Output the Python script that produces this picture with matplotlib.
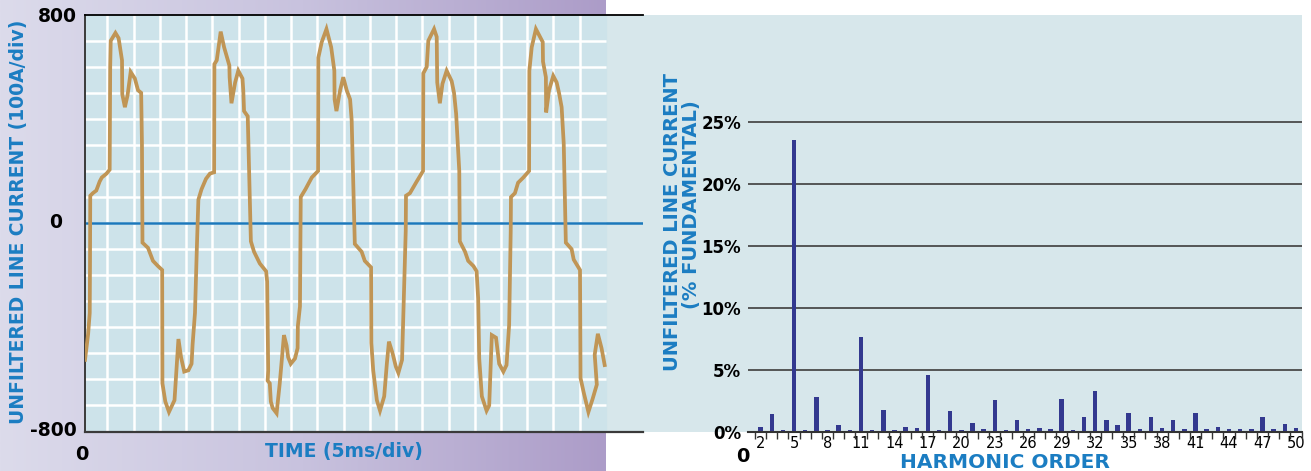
import numpy as np
import matplotlib.pyplot as plt
from matplotlib.colors import LinearSegmentedColormap

# line current trace: time in ms, current in A
t_ms = [0.0, 0.6, 0.9, 0.95, 1.0, 1.5, 2.15, 2.8, 3.2, 4.1, 4.7, 4.8, 4.9, 5.8, 6.4, 7.05, 7.1, 7.6, 8.1, 8.7, 9.5, 10.1, 10.7, 10.85,
        10.95, 12.0, 12.95, 13.9, 14.7, 14.75, 15.3, 16.0, 17.05, 17.8, 18.3, 18.9, 19.7, 20.3, 20.5, 20.95, 21.3,
        21.6, 22.2, 23.05, 23.8, 24.6, 24.65, 25.1, 25.85, 26.5, 27.5, 27.55, 27.9, 28.6, 29.2, 30.0, 30.15, 30.3, 31.0,
        31.6, 32.2, 33.3, 34.5, 34.7, 34.9, 34.8, 35.2, 35.4, 35.75, 36.5, 37.1, 37.9, 38.4, 38.7, 39.2, 40.0, 40.5, 40.55, 40.95,
        41.1, 42.0, 43.2, 44.4, 44.45, 45.1, 46.0, 46.9, 47.5, 47.55, 47.9, 48.6, 49.2, 49.85, 50.5, 50.8,
        51.4, 52.7, 53.3, 54.5, 54.55, 54.9, 55.6, 56.2, 57.0, 57.5, 57.9, 58.6, 59.2, 59.7, 60.4, 60.6, 61.1,
        61.15, 61.9, 63.2, 64.4, 64.45, 65.1, 65.4, 66.0, 66.5, 67.0, 67.1, 67.6, 68.1, 68.9, 69.85, 70.3, 70.7, 71.3,
        71.4, 72.4, 73.0, 74.0, 74.6, 74.9, 75.1, 75.6, 76.5, 77.0, 77.5, 78.3, 78.9, 79.7, 80.3, 80.8, 81.1,
        81.15, 81.9, 82.5, 83.5, 84.6, 84.65, 85.1, 85.9, 87.2, 87.25, 87.8, 87.85, 88.4, 89.2, 89.85, 90.3, 90.8, 91.2,
        91.6, 92.7, 93.1, 94.3, 94.4, 95.0, 95.9, 96.7, 97.5, 97.1, 97.7, 98.4, 99.0]
i_amp = [-525, -425, -345, -165, 105, 115, 125, 160, 175, 190, 205, 600, 700, 730, 710, 625, 495, 445, 490, 580, 555, 510, 500, 305,
         -75, -95, -145, -165, -180, -615, -685, -725, -680, -445, -515, -570, -565, -540, -465, -345, -100,
         90, 130, 170, 190, 195, 610, 625, 735, 675, 605, 560, 460, 540, 585, 555, 510, 430, 410,
         -70, -110, -155, -185, -225, -565, -605, -615, -685, -710, -730, -615, -430, -470, -515, -540, -520, -480, -395, -320,
         100, 130, 175, 200, 635, 695, 745, 675, 585, 475, 430, 510, 560, 510, 475, 395,
         -80, -110, -145, -170, -460, -565, -680, -720, -665, -540, -455, -500, -550, -575, -525, -380, -30,
         105, 115, 160, 200, 575, 600, 700, 725, 745, 715, 540, 460, 535, 585, 545, 500, 420, 200,
         -70, -110, -145, -165, -185, -290, -520, -665, -720, -700, -430, -440, -540, -570, -545, -390, -30,
         100, 115, 155, 175, 200, 585, 675, 745, 695, 620, 560, 425, 510, 565, 540, 500, 445, 305,
         -75, -100, -140, -180, -595, -650, -725, -675, -620, -505, -425, -480, -545]

# harmonic spectrum, % of fundamental
harmonic = list(range(2, 51))
pct_fund = [0.40, 1.43, 0.13, 23.6, 0.13, 2.83, 0.13, 0.54, 0.13, 7.67,
            0.13, 1.75, 0.13, 0.35, 0.27, 4.58, 0.13, 1.70, 0.13, 0.67,
            0.19, 2.56, 0.13, 0.94, 0.19, 0.30, 0.22, 2.61, 0.13, 1.21,
            3.26, 0.94, 0.54, 1.53, 0.22, 1.21, 0.27, 0.94, 0.19, 1.48,
            0.19, 0.35, 0.19, 0.24, 0.22, 1.21, 0.19, 0.62, 0.27]
harm_ticks = list(range(2, 51, 3))
pct_ticks = [0, 5, 10, 15, 20, 25]

BLUE = '#1b7dc2'
W, H = 1311, 471


def fx(px):
    return px / W


def fy(py):
    return 1 - py / H


fig = plt.figure(figsize=(W / 100, H / 100), dpi=100)

# panel backgrounds
bg_left = fig.add_axes([0, 0, fx(606), 1], zorder=0)
cmap = LinearSegmentedColormap.from_list('panel', ['#dcdbeb', '#c8c2de', '#ac9cc8'])
bg_left.imshow(np.linspace(0, 1, 256).reshape(1, -1), aspect='auto', cmap=cmap, extent=[0, 1, 0, 1])
bg_left.axis('off')

bg_right = fig.add_axes([fx(606), fy(432), fx(1302 - 606), (432 - 15) / H], zorder=0)
bg_right.set_facecolor('#d7e7eb')
bg_right.set_xticks([])
bg_right.set_yticks([])
for s in bg_right.spines.values():
    s.set_visible(False)

# --- time waveform ---
t_end = 99.2
ax1 = fig.add_axes([fx(85), fy(431.5), fx(643 - 85), (431.5 - 14.7) / H], zorder=2)
ax1.set_facecolor('none')
ax1.set_xlim(0, 106.3)
ax1.set_ylim(-800, 800)
ax1.axvspan(0, t_end, color='#cde3ea', zorder=0)
ax1.vlines(np.arange(4.25, t_end, 5), -800, 800, color='white', lw=1.8, zorder=1)
ax1.hlines(np.arange(-700, 800, 100), 0, t_end, color='white', lw=1.8, zorder=1)
ax1.axhline(0, color='#1a78bb', lw=1.8, zorder=2)
ax1.plot(t_ms, i_amp, color='#c09555', lw=2.7, solid_joinstyle='miter', zorder=3)
ax1.set_xticks([])
ax1.set_yticks([])
ax1.spines['right'].set_visible(False)
ax1.spines['top'].set_color('black')
ax1.spines['top'].set_linewidth(1.3)
ax1.spines['bottom'].set_color('#3a3a3a')
ax1.spines['bottom'].set_linewidth(1.6)
ax1.spines['left'].set_color('#3a3a3a')
ax1.spines['left'].set_linewidth(1.4)

bold = dict(fontweight='heavy', color='black')
fig.text(fx(77), fy(16), '800', ha='right', va='center', fontsize=13.5, **bold)
fig.text(fx(56), fy(222), '0', ha='center', va='center', fontsize=13.5, **bold)
fig.text(fx(77), fy(430), '-800', ha='right', va='center', fontsize=13.5, **bold)
fig.text(fx(82), fy(455), '0', ha='center', va='center', fontsize=14, **bold)
fig.text(fx(344), fy(452), 'TIME (5ms/div)', ha='center', va='center', fontsize=13.5,
         fontweight='heavy', color=BLUE)
fig.text(fx(19), fy(222), 'UNFILTERED LINE CURRENT (100A/div)', ha='center', va='center',
         rotation=90, fontsize=13.5, fontweight='heavy', color=BLUE)

# --- harmonic spectrum ---
ax2 = fig.add_axes([fx(748), fy(431.7), fx(1301.5 - 748), (431.7 - 122.3) / H], zorder=2)
ax2.set_facecolor('none')
ax2.set_xlim(0.87, 50.5)
ax2.set_ylim(0, 25)
ax2.hlines(pct_ticks[1:], 0.87, 50.5, color='#4a4a4a', lw=1.3, clip_on=False, zorder=1)
ax2.bar(harmonic, pct_fund, width=0.4, color='#33398f', zorder=2)
for s in ['left', 'right', 'top']:
    ax2.spines[s].set_visible(False)
ax2.spines['bottom'].set_color('#333333')
ax2.spines['bottom'].set_linewidth(1.5)
ax2.set_xticks(harm_ticks)
ax2.set_xticklabels([str(h) for h in harm_ticks], fontsize=10.5)
ax2.set_xticks(np.arange(1.5, 51, 1), minor=True)
ax2.tick_params(axis='x', which='major', length=0, pad=3)
ax2.tick_params(axis='x', which='minor', length=5, width=1, color='#333333', direction='out')
ax2.set_yticks(pct_ticks)
ax2.set_yticklabels([f'{p}%' for p in pct_ticks], fontsize=12, fontweight='heavy')
ax2.tick_params(axis='y', length=0, pad=5)

fig.text(fx(743), fy(457), '0', ha='center', va='center', fontsize=14, **bold)
fig.text(fx(1005), fy(462), 'HARMONIC ORDER', ha='center', va='center', fontsize=14.5,
         fontweight='heavy', color=BLUE)
fig.text(fx(673), fy(222), 'UNFILTERED LINE CURRENT', ha='center', va='center', rotation=90,
         fontsize=14, fontweight='heavy', color=BLUE)
fig.text(fx(692), fy(205), '(% FUNDAMENTAL)', ha='center', va='center', rotation=90,
         fontsize=14, fontweight='heavy', color=BLUE)

fig.savefig('out.png', dpi=100)
